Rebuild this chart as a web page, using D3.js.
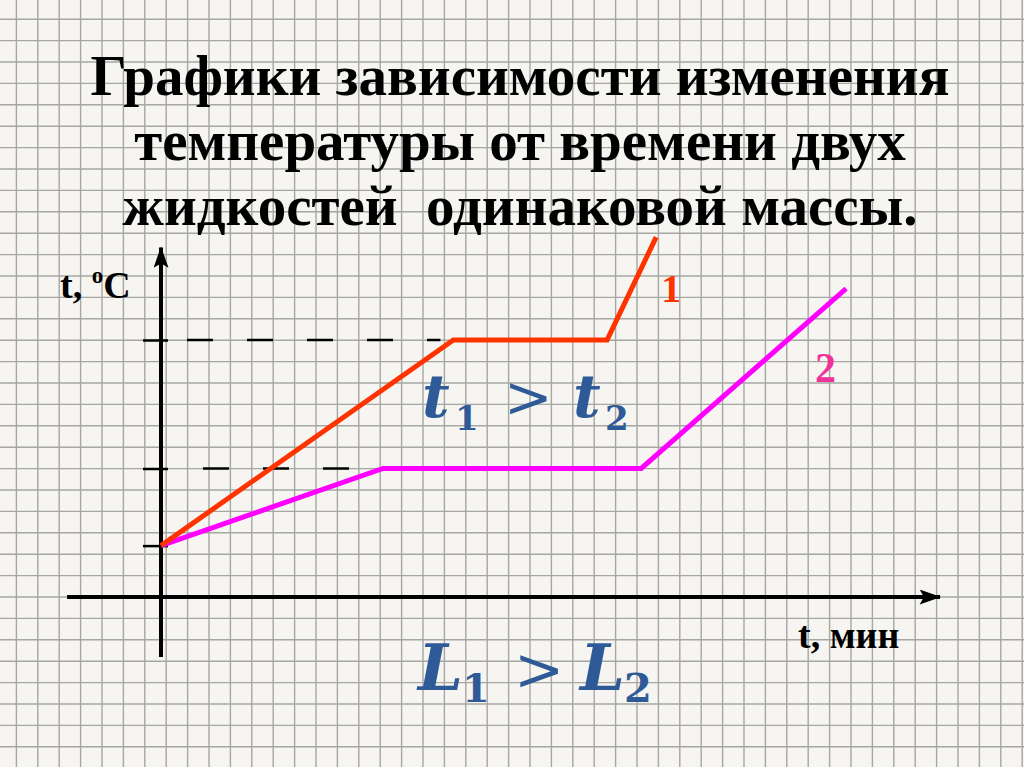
<!DOCTYPE html>
<html>
<head>
<meta charset="utf-8">
<script src="https://cdn.jsdelivr.net/npm/d3@7"></script>
<style>
  html, body { margin: 0; padding: 0; background: #f6f5f1; }
  svg { display: block; }
</style>
</head>
<body>
<div class="figure"></div>
<script>
var width = 1024,
    height = 767

// liquid 1 (red) and liquid 2 (magenta): time, minutes / temperature, °C
var time1 = [0, 13.7, 20.9, 23.2];
var temp1 = [20, 100, 100, 140];
var time2 = [0, 10.4, 22.5, 32.1];
var temp2 = [20, 50, 50, 120];
var tempTicks = [20, 50, 100];
var seriesNames = ["1", "2"];

var titleLines = [
  "Графики зависимости изменения",
  "температуры от времени двух",
  "жидкостей  одинаковой массы."
];

var svg = d3.select(".figure").append("svg")
    .attr("width", width)
    .attr("height", height);

var x = d3.scaleLinear()
    .domain([0, 36.5])
    .range([161, 940]);

var y = d3.scaleLinear()
    .domain([0, 100])
    .range([597, 340]);

// squared exercise-book paper
svg.append("rect")
    .attr("width", width)
    .attr("height", height)
    .attr("fill", "#f6f5f1");

var cell = 21.4;
var gridX = d3.range(166.2 - 8 * cell, width, cell);
var gridY = d3.range(597 - 28 * cell, height, cell);

svg.append("g")
    .attr("stroke", "#a6a6a3")
    .attr("stroke-width", 1.4)
    .call(g => g.selectAll("line.v").data(gridX).enter().append("line")
        .attr("class", "v")
        .attr("x1", d => d).attr("x2", d => d)
        .attr("y1", 0).attr("y2", height))
    .call(g => g.selectAll("line.h").data(gridY).enter().append("line")
        .attr("class", "h")
        .attr("y1", d => d).attr("y2", d => d)
        .attr("x1", 0).attr("x2", width));

// title
svg.append("g")
    .selectAll("text")
    .data(titleLines).enter()
    .append("text")
    .attr("x", 520)
    .attr("y", (d, i) => 95 + i * 65)
    .attr("text-anchor", "middle")
    .style("white-space", "pre")
    .style("font", "bold 57px 'Liberation Serif', 'Times New Roman', serif")
    .attr("fill", "#000")
    .text(d => d);

// arrowheads
var defs = svg.append("defs");
defs.append("marker")
    .attr("id", "arrow")
    .attr("viewBox", "0 0 20 14")
    .attr("refX", 19)
    .attr("refY", 7)
    .attr("markerUnits", "userSpaceOnUse")
    .attr("markerWidth", 22)
    .attr("markerHeight", 15)
    .attr("orient", "auto")
    .append("path")
    .attr("d", "M0,0 L20,7 L0,14 L4,7 Z")
    .attr("fill", "#000");

// guide dashes to the plateaus
svg.append("line")
    .attr("stroke", "#000")
    .attr("stroke-width", 2.5)
    .attr("stroke-dasharray", "26,34")
    .attr("x1", x(0) + 26)
    .attr("x2", x(time1[1]) - 13)
    .attr("y1", y(temp1[1]))
    .attr("y2", y(temp1[1]));

svg.append("line")
    .attr("stroke", "#000")
    .attr("stroke-width", 2.5)
    .attr("stroke-dasharray", "26,34")
    .attr("x1", x(0) + 42)
    .attr("x2", x(time2[1]) - 26)
    .attr("y1", y(temp2[1]))
    .attr("y2", y(temp2[1]));

// y ticks (no labels), drawn across the axis
var yAxis = g => g
    .attr("transform", `translate(${x(0)},0)`)
    .call(d3.axisLeft(y).tickValues(tempTicks).tickFormat("").tickSizeOuter(0))
    .call(g => g.select(".domain").remove())
    .call(g => g.selectAll(".tick line")
        .attr("x1", 7)
        .attr("x2", -18)
        .attr("stroke", "#000")
        .attr("stroke-width", 2.5));

svg.append("g")
    .call(yAxis);

// axes with arrows
svg.append("line")
    .attr("stroke", "#000")
    .attr("stroke-width", 4)
    .attr("x1", x(0)).attr("x2", x(0))
    .attr("y1", y(-23.3)).attr("y2", y(136))
    .attr("marker-end", "url(#arrow)");

svg.append("line")
    .attr("stroke", "#000")
    .attr("stroke-width", 4)
    .attr("x1", x(-4.4)).attr("x2", x(36.5))
    .attr("y1", y(0)).attr("y2", y(0))
    .attr("marker-end", "url(#arrow)");

// the two heating curves
var line = d3.line()
    .x(d => x(d[0]))
    .y(d => y(d[1]));

svg.append("path")
    .datum(d3.zip(time2, temp2))
    .attr("fill", "none")
    .attr("stroke", "#ff00ff")
    .attr("stroke-width", 5)
    .attr("stroke-linejoin", "miter")
    .attr("d", line);

svg.append("path")
    .datum(d3.zip(time1, temp1))
    .attr("fill", "none")
    .attr("stroke", "#ff3300")
    .attr("stroke-width", 5)
    .attr("stroke-linejoin", "miter")
    .attr("d", line);

// series numbers
svg.append("text")
    .attr("x", x(time1[3]) + 5)
    .attr("y", y(temp1[3]) + 65)
    .style("font", "bold 40px 'Liberation Serif', serif")
    .attr("fill", "#ff3300")
    .text(seriesNames[0]);

svg.append("text")
    .attr("x", x(time2[3]) - 31)
    .attr("y", y(temp2[3]) + 93)
    .style("font", "bold 42px 'Liberation Serif', serif")
    .attr("fill", "#f0339a")
    .text(seriesNames[1]);

// axis titles
var tLabel = svg.append("text")
    .attr("x", 60)
    .attr("y", 298)
    .style("font", "bold 38px 'Liberation Serif', serif")
    .attr("fill", "#000");
tLabel.append("tspan").text("t, ");
tLabel.append("tspan").attr("font-size", 23).attr("dy", -15).text("o");
tLabel.append("tspan").attr("dy", 15).text("C");

svg.append("text")
    .attr("x", 798)
    .attr("y", 648)
    .style("font", "bold 38px 'Liberation Serif', serif")
    .attr("fill", "#000")
    .text("t, мин");

// formulas
function formula(sym, base, symSize, subSize, subDy, gtSize, pos) {
  var t = svg.append("text")
      .attr("y", base)
      .attr("fill", "#2e5b98")
      .style("font-family", "'DejaVu Serif', serif");
  t.append("tspan").attr("x", pos[0]).attr("font-size", symSize)
      .attr("font-weight", "bold").attr("font-style", "italic").text(sym);
  t.append("tspan").attr("x", pos[1]).attr("dy", subDy).attr("font-size", subSize)
      .attr("font-weight", "bold").text("1");
  t.append("tspan").attr("x", pos[2]).attr("dy", -subDy).attr("font-size", gtSize)
      .text(">");
  t.append("tspan").attr("x", pos[3]).attr("font-size", symSize)
      .attr("font-weight", "bold").attr("font-style", "italic").text(sym);
  t.append("tspan").attr("x", pos[4]).attr("dy", subDy).attr("font-size", subSize)
      .attr("font-weight", "bold").text("2");
}

formula("t", 417, 60, 34, 13, 58, [422, 455, 504, 573, 605]);
formula("L", 690, 64, 40, 12, 60, [418, 462, 514, 580, 624]);
</script>
</body>
</html>
